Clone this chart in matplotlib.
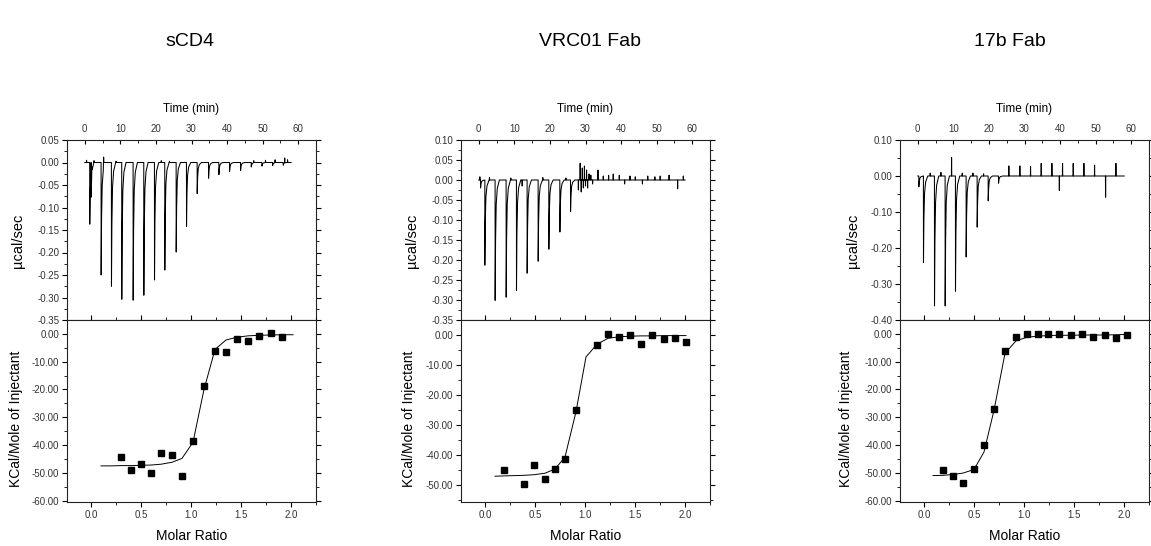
import matplotlib
matplotlib.use("Agg")
import matplotlib.pyplot as plt
from matplotlib.ticker import MultipleLocator, FormatStrFormatter
import numpy as np

plt.rcParams['font.family'] = ['Liberation Sans', 'DejaVu Sans']
plt.rcParams['axes.unicode_minus'] = False

# ---------------- data ----------------
titles = ["sCD4", "VRC01 Fab", "17b Fab"]

# raw thermograms: injection times (min) and peak heights (ucal/sec)
inj_t_1 = [1.4, 1.8, 4.6, 7.5, 10.4, 13.6, 16.6, 19.6, 22.5, 25.7, 28.6, 31.6, 34.8, 37.7, 40.7, 43.8, 46.8, 49.8, 52.8, 55.8]
inj_h_1 = [-0.137, -0.077, -0.250, -0.275, -0.304, -0.306, -0.295, -0.261, -0.239, -0.199, -0.142, -0.069, -0.035, -0.027, -0.020, -0.018, -0.010, -0.008, -0.007, -0.006]
spk_t_1 = [0.5, 2.6, 5.3, 8.8, 21.5, 23.8, 47.5, 50.8, 53.5, 56.2, 57.0]
spk_h_1 = [0.005, 0.004, 0.012, 0.003, 0.004, 0.003, 0.004, 0.005, 0.006, 0.010, 0.006]

inj_t_2 = [0.5, 1.7, 4.6, 7.7, 10.6, 13.6, 16.7, 19.7, 22.8, 25.8]
inj_h_2 = [-0.020, -0.213, -0.301, -0.293, -0.276, -0.233, -0.203, -0.173, -0.130, -0.079]
spk_t_2 = [0.3, 3.0, 9.0, 12.2, 18.0, 24.5, 28.0, 28.5, 28.8, 29.1, 29.4, 29.7, 30.0, 30.3, 30.6, 31.0, 31.5, 32.0,
           33.5, 35.0, 36.5, 37.8, 39.5, 41.0, 42.5, 44.0, 46.0, 47.5, 49.5, 51.0, 53.5, 55.9, 57.5]
spk_h_2 = [0.008, 0.006, 0.005, -0.015, 0.006, 0.005, -0.025, 0.042, -0.030, 0.030, -0.020, 0.035, -0.015, 0.025, -0.020, 0.015, 0.012, -0.010,
           0.025, 0.010, 0.012, 0.015, 0.012, -0.010, 0.010, 0.008, -0.010, 0.010, 0.008, 0.010, 0.012, -0.022, 0.010]

inj_t_3 = [0.3, 1.6, 4.7, 7.7, 10.6, 13.6, 16.7, 19.8, 22.7]
inj_h_3 = [-0.030, -0.240, -0.361, -0.361, -0.320, -0.225, -0.142, -0.069, -0.020]
spk_t_3 = [3.5, 6.5, 9.5, 12.5, 15.5, 18.5, 25.6, 28.7, 31.7, 34.7, 37.7, 39.8, 40.7, 43.7, 46.7, 49.7, 52.8, 55.7]
spk_h_3 = [0.008, 0.010, 0.051, 0.008, 0.008, 0.006, 0.028, 0.028, 0.026, 0.035, 0.035, -0.040, 0.035, 0.035, 0.035, 0.030, -0.059, 0.035]

# integrated heats (molar ratio, kcal/mol)
mr_1 = [0.30, 0.40, 0.50, 0.60, 0.70, 0.81, 0.91, 1.02, 1.13, 1.24, 1.35, 1.46, 1.57, 1.68, 1.80, 1.91]
dh_1 = [-44.2, -49.0, -47.0, -50.2, -42.7, -43.5, -51.0, -38.4, -18.7, -6.0, -6.4, -1.8, -2.5, -0.6, 0.5, -1.2]
fit_x_1 = [0.10, 0.20, 0.30, 0.40, 0.50, 0.60, 0.70, 0.81, 0.91, 1.02, 1.13, 1.24, 1.35, 1.46, 1.57, 1.68, 1.80, 1.91, 2.02]
fit_y_1 = [-47.5, -47.5, -47.4, -47.4, -47.3, -47.2, -46.9, -46.2, -44.8, -39.0, -20.0, -5.6, -2.2, -1.2, -0.7, -0.5, -0.4, -0.3, -0.3]

mr_2 = [0.19, 0.39, 0.49, 0.60, 0.70, 0.80, 0.91, 1.12, 1.23, 1.34, 1.45, 1.56, 1.67, 1.79, 1.90, 2.01]
dh_2 = [-44.8, -49.7, -43.3, -47.9, -44.6, -41.1, -24.8, -3.1, 0.4, -0.5, 0.2, -2.9, 0.0, -1.3, -0.9, -2.2]
fit_x_2 = [0.10, 0.19, 0.29, 0.39, 0.49, 0.60, 0.70, 0.80, 0.91, 1.01, 1.12, 1.23, 1.34, 1.45, 1.56, 1.67, 1.79, 1.90, 2.01]
fit_y_2 = [-47.0, -46.9, -46.8, -46.7, -46.5, -46.0, -44.6, -40.6, -25.5, -7.2, -3.0, -1.0, -0.5, -0.3, -0.2, -0.2, -0.1, -0.1, -0.1]

mr_3 = [0.19, 0.29, 0.39, 0.50, 0.60, 0.70, 0.81, 0.92, 1.03, 1.14, 1.24, 1.35, 1.47, 1.58, 1.69, 1.81, 1.92, 2.03]
dh_3 = [-49.0, -51.2, -53.8, -48.8, -40.1, -27.1, -6.0, -1.0, -0.1, 0.0, 0.0, -0.1, -0.5, 0.1, -1.2, -0.5, -1.4, -0.4]
fit_x_3 = [0.09, 0.19, 0.29, 0.39, 0.50, 0.60, 0.70, 0.81, 0.92, 1.03, 1.14, 1.24, 1.35, 1.47, 1.58, 1.69, 1.81, 1.92, 2.03]
fit_y_3 = [-51.0, -50.9, -50.6, -50.1, -48.8, -42.5, -27.5, -7.0, -2.5, -1.2, -0.8, -0.6, -0.5, -0.5, -0.4, -0.4, -0.4, -0.3, -0.2]

# axis settings per panel
top_ylim = [(-0.35, 0.05), (-0.35, 0.10), (-0.40, 0.10)]
top_ymajor = [0.05, 0.05, 0.10]
bot_ylim = [(-60.5, 5.0), (-55.6, 5.1), (-60.5, 5.0)]
bot_ymajor = [10, 10, 10]
t_end = [58.0, 58.0, 58.0]

panels = [
    (inj_t_1, inj_h_1, spk_t_1, spk_h_1, mr_1, dh_1, fit_x_1, fit_y_1),
    (inj_t_2, inj_h_2, spk_t_2, spk_h_2, mr_2, dh_2, fit_x_2, fit_y_2),
    (inj_t_3, inj_h_3, spk_t_3, spk_h_3, mr_3, dh_3, fit_x_3, fit_y_3),
]


def build_trace(it, ih, st, sh, tend):
    pts = [(0.0, 0.0), (tend, 0.0)]
    shape = [(-0.02, 0.0), (0.0, 1.0), (0.12, 0.5), (0.3, 0.2), (0.6, 0.07), (1.2, 0.0)]
    for t, h in zip(it, ih):
        for dt, f in shape:
            pts.append((t + dt, h * f))
    for t, h in zip(st, sh):
        pts += [(t - 0.05, 0.0), (t, h), (t + 0.05, 0.0)]
    pts.sort(key=lambda p: p[0])
    x = np.array([p[0] for p in pts])
    y = np.array([p[1] for p in pts])
    return x, y


W, H = 1151, 546
fig = plt.figure(figsize=(W / 100, H / 100), dpi=100)

lefts = [67, 461, 900]
width = 249
top_px, mid_px, bot_px = 140, 320, 502
title_x = [190, 590, 1010]
ylab_top_x = [-0.169, -0.17, -0.16]
ylab_bot_x = [-0.177, -0.18, -0.188]

tick_col = '#333333'
spine_col = '#222222'

for i, (it, ih, st, sh, mr, dh, fx, fy) in enumerate(panels):
    l = lefts[i] / W
    w = width / W
    ax1 = fig.add_axes([l, 1 - mid_px / H, w, (mid_px - top_px) / H])
    ax2 = fig.add_axes([l, 1 - bot_px / H, w, (bot_px - mid_px) / H])

    # --- thermogram ---
    x, y = build_trace(it, ih, st, sh, t_end[i])
    ax1.plot(x, y, color='black', lw=0.75)
    ax1.set_xlim(-5, 65)
    ax1.set_ylim(*top_ylim[i])
    ax1.xaxis.tick_top()
    ax1.xaxis.set_label_position('top')
    ax1.xaxis.set_major_locator(MultipleLocator(10))
    ax1.xaxis.set_minor_locator(MultipleLocator(5))
    ax1.yaxis.set_major_locator(MultipleLocator(top_ymajor[i]))
    ax1.yaxis.set_minor_locator(MultipleLocator(top_ymajor[i] / 2))
    ax1.yaxis.set_major_formatter(FormatStrFormatter('%.2f'))
    ax1.tick_params(axis='x', which='both', direction='in', top=True, bottom=False,
                    labelsize=7, labelcolor=tick_col, pad=4)
    ax1.tick_params(axis='x', which='major', length=3)
    ax1.tick_params(axis='x', which='minor', length=2)
    ax1.tick_params(axis='y', which='both', direction='out', left=True, labelsize=7,
                    labelcolor=tick_col, pad=2)
    ax1.tick_params(axis='y', which='major', length=3.5)
    ax1.tick_params(axis='y', which='minor', length=2)
    ax1.tick_params(axis='y', which='both', right=True)
    ax1.set_xlabel('Time (min)', fontsize=8.5, labelpad=9)
    ax1.set_ylabel('µcal/sec', fontsize=10.5)
    ax1.yaxis.set_label_coords(ylab_top_x[i], 0.44)
    for s in ax1.spines.values():
        s.set_color(spine_col)
        s.set_linewidth(0.8)

    # --- integrated heats ---
    ax2.plot(fx, fy, color='black', lw=0.7)
    ax2.plot(mr, dh, 's', color='black', ms=4.5)
    ax2.set_xlim(-0.24, 2.25)
    ax2.set_ylim(*bot_ylim[i])
    ax2.xaxis.set_major_locator(MultipleLocator(0.5))
    ax2.xaxis.set_minor_locator(MultipleLocator(0.25))
    ax2.xaxis.set_major_formatter(FormatStrFormatter('%.1f'))
    ax2.yaxis.set_major_locator(MultipleLocator(bot_ymajor[i]))
    ax2.yaxis.set_minor_locator(MultipleLocator(5))
    ax2.yaxis.set_major_formatter(FormatStrFormatter('%.2f'))
    ax2.tick_params(axis='x', which='both', direction='out', top=True, bottom=True,
                    labelsize=7, labelcolor=tick_col, pad=2.5)
    ax2.tick_params(axis='x', which='major', length=3.5)
    ax2.tick_params(axis='x', which='minor', length=2.5)
    ax2.tick_params(axis='y', which='both', direction='out', left=True, labelsize=7,
                    labelcolor=tick_col, pad=2)
    ax2.tick_params(axis='y', which='major', length=3.5)
    ax2.tick_params(axis='y', which='minor', length=2)
    ax2.tick_params(axis='y', which='both', right=True)
    ax2.set_xlabel('Molar Ratio', fontsize=10, labelpad=6)
    ax2.set_ylabel('KCal/Mole of Injectant', fontsize=10)
    ax2.yaxis.set_label_coords(ylab_bot_x[i], 0.456)
    for s in ax2.spines.values():
        s.set_color(spine_col)
        s.set_linewidth(0.8)

    fig.text(title_x[i] / W, 1 - 42 / H, titles[i], fontsize=14, ha='center', va='center')

fig.savefig('out.png', dpi=100)
